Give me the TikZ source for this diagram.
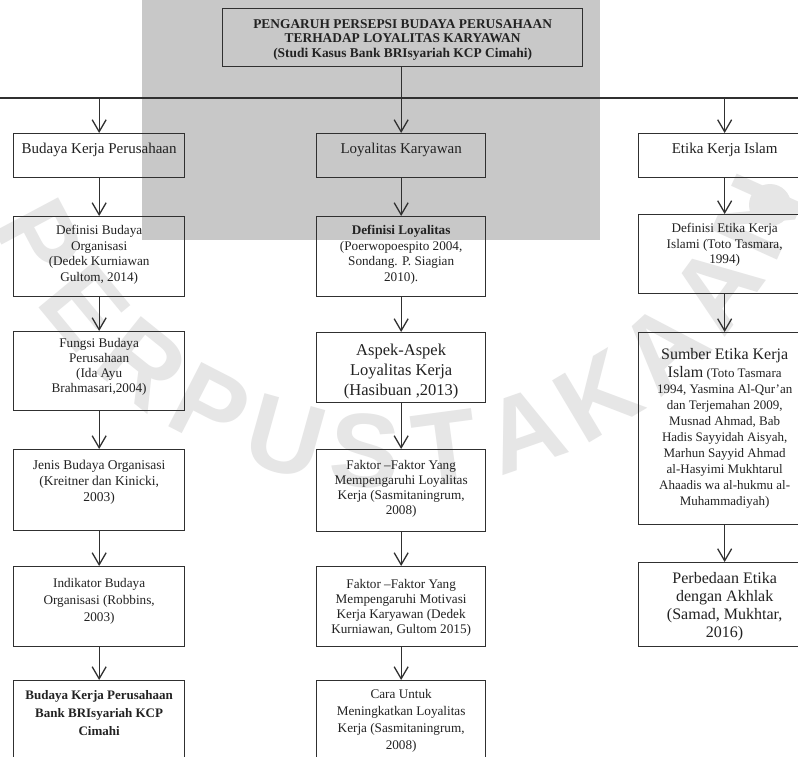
\documentclass[tikz,border=0pt]{standalone}
\usepackage{fontspec}
\setmainfont{Liberation Serif}
\newfontfamily\wmfont{Liberation Sans}
\usetikzlibrary{arrows.meta}
\definecolor{ln}{HTML}{303030}
\definecolor{tx}{HTML}{222222}
\definecolor{wm}{HTML}{C8C8C8}
\definecolor{wmark}{HTML}{E6E6E6}
% width, height, first baseline, font size, line skip, text
\newcommand{\boxtext}[6]{\parbox[c][#2][t]{#1}{\centering\fontsize{#4}{#5}\selectfont\rule{0pt}{#3}#6\par}}
\tikzset{
  bx/.style={draw=ln, line width=1.3pt, inner sep=0pt, text=tx, anchor=north west},
  conn/.style={draw=ln, line width=1.3pt},
  arr/.style={conn, -{Straight Barb[length=12pt,width=14pt,line width=1.3pt]}},
  wmtext/.style={text=wmark, inner sep=0pt, font=\wmfont\bfseries\fontsize{105}{105}\selectfont}
}
\begin{document}
\begin{tikzpicture}[x=1pt,y=-1pt]
\useasboundingbox (0,0) rectangle (798,757);
\clip (0,0) rectangle (798,757);
\fill[white] (0,0) rectangle (798,757);
\fill[wm] (142,0) rectangle (600,240);

% faint watermark
\foreach \ch/\th [count=\i] in {P/152, E/140.4, R/128.8, P/117.2, U/105.6, S/94, T/82.4, A/70.8, K/59.2, A/47.6, A/36, N/24.4}
  \node[wmtext, rotate={90-\th}] (wm\i) at ({393+400*cos(\th)}, {52+400*sin(\th)}) {\ch};
\fill[wmark] (770,205) circle (21);

% title
\node[bx] (title) at (222,8) {\boxtext{360pt}{58pt}{19.5pt}{13.4}{14.5}{\bfseries PENGARUH PERSEPSI BUDAYA PERUSAHAAN\\TERHADAP LOYALITAS KARYAWAN\\(Studi Kasus Bank BRIsyariah KCP Cimahi)}};

% headers
\node[bx] (h1) at (13,133) {\boxtext{171pt}{44pt}{20pt}{15}{18}{Budaya Kerja Perusahaan}};
\node[bx] (h2) at (316,133) {\boxtext{169pt}{44pt}{20pt}{15}{18}{Loyalitas Karyawan}};
\node[bx] (h3) at (638,133) {\boxtext{172pt}{44pt}{20pt}{15}{18}{Etika Kerja Islam}};

% left column
\node[bx] (l2) at (13,216) {\boxtext{171pt}{80pt}{18pt}{13.2}{15.5}{Definisi Budaya\\Organisasi\\(Dedek Kurniawan\\Gultom, 2014)}};
\node[bx] (l3) at (13,331) {\boxtext{171pt}{79pt}{16pt}{13.2}{15}{Fungsi Budaya\\Perusahaan\\(Ida Ayu\\Brahmasari,2004)}};
\node[bx] (l4) at (13,449) {\boxtext{171pt}{81pt}{20pt}{13.5}{16}{Jenis Budaya Organisasi\\(Kreitner dan Kinicki,\\2003)}};
\node[bx] (l5) at (13,566) {\boxtext{171pt}{80pt}{21pt}{13.2}{17}{Indikator Budaya\\Organisasi (Robbins,\\2003)}};
\node[bx] (l6) at (13,680) {\boxtext{171pt}{100pt}{19pt}{13}{18}{\bfseries Budaya Kerja Perusahaan\\Bank BRIsyariah KCP\\Cimahi}};

% middle column
\node[bx] (m2) at (316,216) {\boxtext{169pt}{80pt}{18pt}{13.2}{15.5}{{\bfseries Definisi Loyalitas}\\(Poerwopoespito 2004,\\Sondang. P. Siagian\\2010).}};
\node[bx] (m3) at (316,332) {\boxtext{169pt}{70pt}{23pt}{16.5}{20}{Aspek-Aspek\\Loyalitas Kerja\\(Hasibuan ,2013)}};
\node[bx] (m4) at (316,449) {\boxtext{169pt}{82pt}{20pt}{13.2}{15}{Faktor --Faktor Yang\\Mempengaruhi Loyalitas\\Kerja (Sasmitaningrum,\\2008)}};
\node[bx] (m5) at (316,566) {\boxtext{169pt}{80pt}{22pt}{13.2}{15}{Faktor --Faktor Yang\\Mempengaruhi Motivasi\\Kerja Karyawan (Dedek\\Kurniawan, Gultom 2015)}};
\node[bx] (m6) at (316,680) {\boxtext{169pt}{100pt}{18pt}{13.2}{17}{Cara Untuk\\Meningkatkan Loyalitas\\Kerja (Sasmitaningrum,\\2008)}};

% right column
\node[bx] (r2) at (638,214) {\boxtext{172pt}{79pt}{18pt}{13.2}{15.5}{Definisi Etika Kerja\\Islami (Toto Tasmara,\\1994)}};
\node[bx] (r3) at (638,332) {\boxtext{172pt}{192pt}{27pt}{13}{16}{{\fontsize{16}{18}\selectfont Sumber Etika Kerja}\\[2pt]{\fontsize{16}{18}\selectfont Islam} (Toto Tasmara\\1994, Yasmina Al-Qur'an\\dan Terjemahan 2009,\\Musnad Ahmad, Bab\\Hadis Sayyidah Aisyah,\\Marhun Sayyid Ahmad\\al-Hasyimi Mukhtarul\\Ahaadis wa al-hukmu al-\\Muhammadiyah)}};
\node[bx] (r4) at (638,562) {\boxtext{172pt}{84pt}{21pt}{16}{18}{Perbedaan Etika\\dengan Akhlak\\(Samad, Mukhtar,\\2016)}};

% top connectors
\coordinate (hl0) at (0,98);
\coordinate (hl1) at (798,98);
\draw[conn] (hl0) -- (hl1);
\draw[conn] (h2.north |- title.south) -- (h2.north |- hl0);
\draw[arr] (h1.north |- hl0) -- (h1.north);
\draw[arr] (h2.north |- hl0) -- (h2.north);
\draw[arr] (h3.north |- hl0) -- (h3.north);

% column connectors
\draw[arr] (h1.south) -- (l2.north);
\draw[arr] (l2.south) -- (l3.north);
\draw[arr] (l3.south) -- (l4.north);
\draw[arr] (l4.south) -- (l5.north);
\draw[arr] (l5.south) -- (l6.north);

\draw[arr] (h2.south) -- (m2.north);
\draw[arr] (m2.south) -- (m3.north);
\draw[arr] (m3.south) -- (m4.north);
\draw[arr] (m4.south) -- (m5.north);
\draw[arr] (m5.south) -- (m6.north);

\draw[arr] (h3.south) -- (r2.north);
\draw[arr] (r2.south) -- (r3.north);
\draw[arr] (r3.south) -- (r4.north);
\end{tikzpicture}
\end{document}
